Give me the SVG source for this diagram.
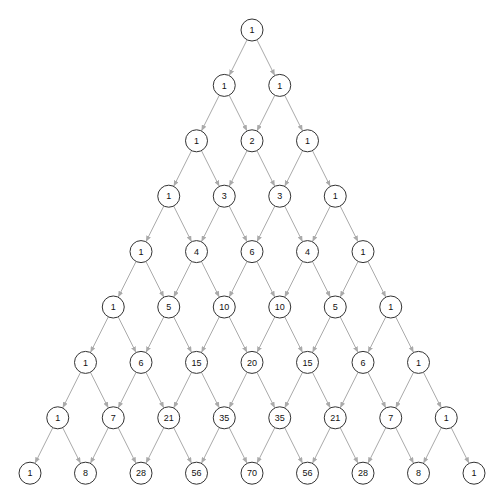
<svg xmlns="http://www.w3.org/2000/svg" width="504" height="504" viewBox="0 0 504 504">
<style>
.n circle{fill:#fff;stroke:#333;stroke-width:1}
.n text{font-family:"Liberation Sans",Arial,sans-serif;font-size:9px;fill:#111;text-anchor:middle}
.e line{stroke:#aaa;stroke-width:1;marker-end:url(#ah)}
</style>
<defs>
<marker id="ah" markerUnits="userSpaceOnUse" markerWidth="6" markerHeight="5" refX="6" refY="2.5" orient="auto"><path d="M0,0 L6,2.5 L0,5 z" fill="#aaa"/></marker>
</defs>
<rect width="504" height="504" fill="#fff"/>
<g id="connectors" class="e">
<g transform="translate(252,30)"><line x1="-4.93" y1="9.84" x2="-22.82" y2="45.56"/><line x1="4.93" y1="9.84" x2="22.82" y2="45.56"/></g>
<g transform="translate(224.25,85.4)"><line x1="-4.93" y1="9.84" x2="-22.82" y2="45.56"/><line x1="4.93" y1="9.84" x2="22.82" y2="45.56"/></g>
<g transform="translate(279.75,85.4)"><line x1="-4.93" y1="9.84" x2="-22.82" y2="45.56"/><line x1="4.93" y1="9.84" x2="22.82" y2="45.56"/></g>
<g transform="translate(196.5,140.8)"><line x1="-4.93" y1="9.84" x2="-22.82" y2="45.56"/><line x1="4.93" y1="9.84" x2="22.82" y2="45.56"/></g>
<g transform="translate(252,140.8)"><line x1="-4.93" y1="9.84" x2="-22.82" y2="45.56"/><line x1="4.93" y1="9.84" x2="22.82" y2="45.56"/></g>
<g transform="translate(307.5,140.8)"><line x1="-4.93" y1="9.84" x2="-22.82" y2="45.56"/><line x1="4.93" y1="9.84" x2="22.82" y2="45.56"/></g>
<g transform="translate(168.75,196.2)"><line x1="-4.93" y1="9.84" x2="-22.82" y2="45.56"/><line x1="4.93" y1="9.84" x2="22.82" y2="45.56"/></g>
<g transform="translate(224.25,196.2)"><line x1="-4.93" y1="9.84" x2="-22.82" y2="45.56"/><line x1="4.93" y1="9.84" x2="22.82" y2="45.56"/></g>
<g transform="translate(279.75,196.2)"><line x1="-4.93" y1="9.84" x2="-22.82" y2="45.56"/><line x1="4.93" y1="9.84" x2="22.82" y2="45.56"/></g>
<g transform="translate(335.25,196.2)"><line x1="-4.93" y1="9.84" x2="-22.82" y2="45.56"/><line x1="4.93" y1="9.84" x2="22.82" y2="45.56"/></g>
<g transform="translate(141,251.6)"><line x1="-4.93" y1="9.84" x2="-22.82" y2="45.56"/><line x1="4.93" y1="9.84" x2="22.82" y2="45.56"/></g>
<g transform="translate(196.5,251.6)"><line x1="-4.93" y1="9.84" x2="-22.82" y2="45.56"/><line x1="4.93" y1="9.84" x2="22.82" y2="45.56"/></g>
<g transform="translate(252,251.6)"><line x1="-4.93" y1="9.84" x2="-22.82" y2="45.56"/><line x1="4.93" y1="9.84" x2="22.82" y2="45.56"/></g>
<g transform="translate(307.5,251.6)"><line x1="-4.93" y1="9.84" x2="-22.82" y2="45.56"/><line x1="4.93" y1="9.84" x2="22.82" y2="45.56"/></g>
<g transform="translate(363,251.6)"><line x1="-4.93" y1="9.84" x2="-22.82" y2="45.56"/><line x1="4.93" y1="9.84" x2="22.82" y2="45.56"/></g>
<g transform="translate(113.25,307)"><line x1="-4.93" y1="9.84" x2="-22.82" y2="45.56"/><line x1="4.93" y1="9.84" x2="22.82" y2="45.56"/></g>
<g transform="translate(168.75,307)"><line x1="-4.93" y1="9.84" x2="-22.82" y2="45.56"/><line x1="4.93" y1="9.84" x2="22.82" y2="45.56"/></g>
<g transform="translate(224.25,307)"><line x1="-4.93" y1="9.84" x2="-22.82" y2="45.56"/><line x1="4.93" y1="9.84" x2="22.82" y2="45.56"/></g>
<g transform="translate(279.75,307)"><line x1="-4.93" y1="9.84" x2="-22.82" y2="45.56"/><line x1="4.93" y1="9.84" x2="22.82" y2="45.56"/></g>
<g transform="translate(335.25,307)"><line x1="-4.93" y1="9.84" x2="-22.82" y2="45.56"/><line x1="4.93" y1="9.84" x2="22.82" y2="45.56"/></g>
<g transform="translate(390.75,307)"><line x1="-4.93" y1="9.84" x2="-22.82" y2="45.56"/><line x1="4.93" y1="9.84" x2="22.82" y2="45.56"/></g>
<g transform="translate(85.5,362.4)"><line x1="-4.93" y1="9.84" x2="-22.82" y2="45.56"/><line x1="4.93" y1="9.84" x2="22.82" y2="45.56"/></g>
<g transform="translate(141,362.4)"><line x1="-4.93" y1="9.84" x2="-22.82" y2="45.56"/><line x1="4.93" y1="9.84" x2="22.82" y2="45.56"/></g>
<g transform="translate(196.5,362.4)"><line x1="-4.93" y1="9.84" x2="-22.82" y2="45.56"/><line x1="4.93" y1="9.84" x2="22.82" y2="45.56"/></g>
<g transform="translate(252,362.4)"><line x1="-4.93" y1="9.84" x2="-22.82" y2="45.56"/><line x1="4.93" y1="9.84" x2="22.82" y2="45.56"/></g>
<g transform="translate(307.5,362.4)"><line x1="-4.93" y1="9.84" x2="-22.82" y2="45.56"/><line x1="4.93" y1="9.84" x2="22.82" y2="45.56"/></g>
<g transform="translate(363,362.4)"><line x1="-4.93" y1="9.84" x2="-22.82" y2="45.56"/><line x1="4.93" y1="9.84" x2="22.82" y2="45.56"/></g>
<g transform="translate(418.5,362.4)"><line x1="-4.93" y1="9.84" x2="-22.82" y2="45.56"/><line x1="4.93" y1="9.84" x2="22.82" y2="45.56"/></g>
<g transform="translate(57.75,417.8)"><line x1="-4.93" y1="9.84" x2="-22.82" y2="45.56"/><line x1="4.93" y1="9.84" x2="22.82" y2="45.56"/></g>
<g transform="translate(113.25,417.8)"><line x1="-4.93" y1="9.84" x2="-22.82" y2="45.56"/><line x1="4.93" y1="9.84" x2="22.82" y2="45.56"/></g>
<g transform="translate(168.75,417.8)"><line x1="-4.93" y1="9.84" x2="-22.82" y2="45.56"/><line x1="4.93" y1="9.84" x2="22.82" y2="45.56"/></g>
<g transform="translate(224.25,417.8)"><line x1="-4.93" y1="9.84" x2="-22.82" y2="45.56"/><line x1="4.93" y1="9.84" x2="22.82" y2="45.56"/></g>
<g transform="translate(279.75,417.8)"><line x1="-4.93" y1="9.84" x2="-22.82" y2="45.56"/><line x1="4.93" y1="9.84" x2="22.82" y2="45.56"/></g>
<g transform="translate(335.25,417.8)"><line x1="-4.93" y1="9.84" x2="-22.82" y2="45.56"/><line x1="4.93" y1="9.84" x2="22.82" y2="45.56"/></g>
<g transform="translate(390.75,417.8)"><line x1="-4.93" y1="9.84" x2="-22.82" y2="45.56"/><line x1="4.93" y1="9.84" x2="22.82" y2="45.56"/></g>
<g transform="translate(446.25,417.8)"><line x1="-4.93" y1="9.84" x2="-22.82" y2="45.56"/><line x1="4.93" y1="9.84" x2="22.82" y2="45.56"/></g>
</g>
<g id="n0_0" class="n" transform="translate(252,30)"><circle r="11"/><text y="3.2">1</text></g>
<g id="n1_0" class="n" transform="translate(224.25,85.4)"><circle r="11"/><text y="3.2">1</text></g>
<g id="n1_1" class="n" transform="translate(279.75,85.4)"><circle r="11"/><text y="3.2">1</text></g>
<g id="n2_0" class="n" transform="translate(196.5,140.8)"><circle r="11"/><text y="3.2">1</text></g>
<g id="n2_1" class="n" transform="translate(252,140.8)"><circle r="11"/><text y="3.2">2</text></g>
<g id="n2_2" class="n" transform="translate(307.5,140.8)"><circle r="11"/><text y="3.2">1</text></g>
<g id="n3_0" class="n" transform="translate(168.75,196.2)"><circle r="11"/><text y="3.2">1</text></g>
<g id="n3_1" class="n" transform="translate(224.25,196.2)"><circle r="11"/><text y="3.2">3</text></g>
<g id="n3_2" class="n" transform="translate(279.75,196.2)"><circle r="11"/><text y="3.2">3</text></g>
<g id="n3_3" class="n" transform="translate(335.25,196.2)"><circle r="11"/><text y="3.2">1</text></g>
<g id="n4_0" class="n" transform="translate(141,251.6)"><circle r="11"/><text y="3.2">1</text></g>
<g id="n4_1" class="n" transform="translate(196.5,251.6)"><circle r="11"/><text y="3.2">4</text></g>
<g id="n4_2" class="n" transform="translate(252,251.6)"><circle r="11"/><text y="3.2">6</text></g>
<g id="n4_3" class="n" transform="translate(307.5,251.6)"><circle r="11"/><text y="3.2">4</text></g>
<g id="n4_4" class="n" transform="translate(363,251.6)"><circle r="11"/><text y="3.2">1</text></g>
<g id="n5_0" class="n" transform="translate(113.25,307)"><circle r="11"/><text y="3.2">1</text></g>
<g id="n5_1" class="n" transform="translate(168.75,307)"><circle r="11"/><text y="3.2">5</text></g>
<g id="n5_2" class="n" transform="translate(224.25,307)"><circle r="11"/><text y="3.2">10</text></g>
<g id="n5_3" class="n" transform="translate(279.75,307)"><circle r="11"/><text y="3.2">10</text></g>
<g id="n5_4" class="n" transform="translate(335.25,307)"><circle r="11"/><text y="3.2">5</text></g>
<g id="n5_5" class="n" transform="translate(390.75,307)"><circle r="11"/><text y="3.2">1</text></g>
<g id="n6_0" class="n" transform="translate(85.5,362.4)"><circle r="11"/><text y="3.2">1</text></g>
<g id="n6_1" class="n" transform="translate(141,362.4)"><circle r="11"/><text y="3.2">6</text></g>
<g id="n6_2" class="n" transform="translate(196.5,362.4)"><circle r="11"/><text y="3.2">15</text></g>
<g id="n6_3" class="n" transform="translate(252,362.4)"><circle r="11"/><text y="3.2">20</text></g>
<g id="n6_4" class="n" transform="translate(307.5,362.4)"><circle r="11"/><text y="3.2">15</text></g>
<g id="n6_5" class="n" transform="translate(363,362.4)"><circle r="11"/><text y="3.2">6</text></g>
<g id="n6_6" class="n" transform="translate(418.5,362.4)"><circle r="11"/><text y="3.2">1</text></g>
<g id="n7_0" class="n" transform="translate(57.75,417.8)"><circle r="11"/><text y="3.2">1</text></g>
<g id="n7_1" class="n" transform="translate(113.25,417.8)"><circle r="11"/><text y="3.2">7</text></g>
<g id="n7_2" class="n" transform="translate(168.75,417.8)"><circle r="11"/><text y="3.2">21</text></g>
<g id="n7_3" class="n" transform="translate(224.25,417.8)"><circle r="11"/><text y="3.2">35</text></g>
<g id="n7_4" class="n" transform="translate(279.75,417.8)"><circle r="11"/><text y="3.2">35</text></g>
<g id="n7_5" class="n" transform="translate(335.25,417.8)"><circle r="11"/><text y="3.2">21</text></g>
<g id="n7_6" class="n" transform="translate(390.75,417.8)"><circle r="11"/><text y="3.2">7</text></g>
<g id="n7_7" class="n" transform="translate(446.25,417.8)"><circle r="11"/><text y="3.2">1</text></g>
<g id="n8_0" class="n" transform="translate(30,473.2)"><circle r="11"/><text y="3.2">1</text></g>
<g id="n8_1" class="n" transform="translate(85.5,473.2)"><circle r="11"/><text y="3.2">8</text></g>
<g id="n8_2" class="n" transform="translate(141,473.2)"><circle r="11"/><text y="3.2">28</text></g>
<g id="n8_3" class="n" transform="translate(196.5,473.2)"><circle r="11"/><text y="3.2">56</text></g>
<g id="n8_4" class="n" transform="translate(252,473.2)"><circle r="11"/><text y="3.2">70</text></g>
<g id="n8_5" class="n" transform="translate(307.5,473.2)"><circle r="11"/><text y="3.2">56</text></g>
<g id="n8_6" class="n" transform="translate(363,473.2)"><circle r="11"/><text y="3.2">28</text></g>
<g id="n8_7" class="n" transform="translate(418.5,473.2)"><circle r="11"/><text y="3.2">8</text></g>
<g id="n8_8" class="n" transform="translate(474,473.2)"><circle r="11"/><text y="3.2">1</text></g>
</svg>
